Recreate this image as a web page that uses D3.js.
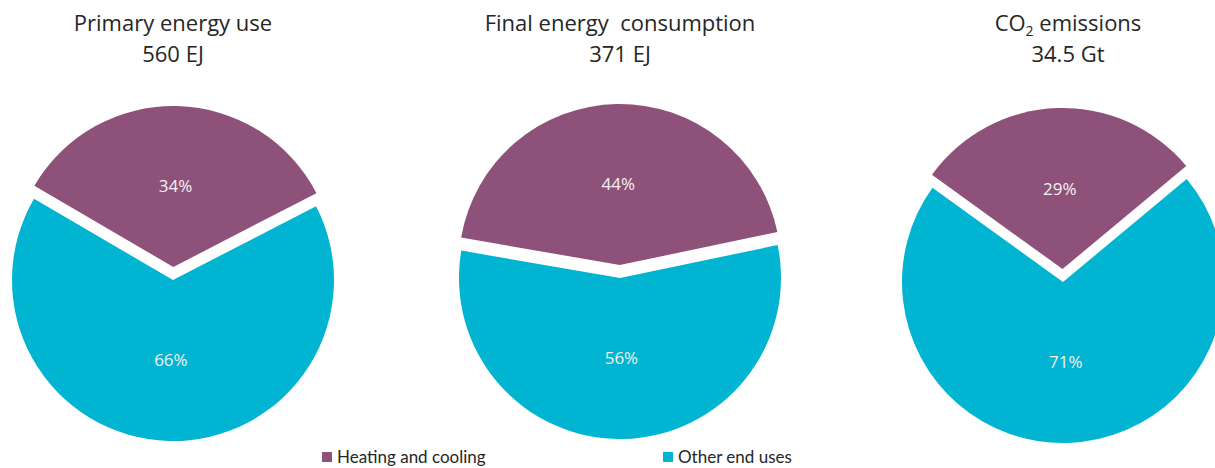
<!DOCTYPE html>
<html>
<head>
<meta charset="utf-8">
<script src="https://cdn.jsdelivr.net/npm/d3@7"></script>
<style>
  html, body { margin: 0; padding: 0; background: #fff; }
  svg { display: block; font-family: "Open Sans", Lato, sans-serif; }
</style>
</head>
<body>
<svg id="chart" width="1215" height="468"></svg>
<script>
// data
const charts = ["Primary energy use", "Final energy  consumption", "CO2 emissions"];
const totals = ["560 EJ", "371 EJ", "34.5 Gt"];
const categories = ["Heating and cooling", "Other end uses"];
const heating = [34, 44, 29];
const otherUses = [66, 56, 71];

const colors = ["#8e527a", "#00b4d2"];

// layout
const centersX = [173, 620, 1063];
const centersY = [280, 278, 282];
const tiltDeg = [1.5, -1, -2];   // slight rotation of each pie
const R = 161;
const EXPLODE = 13;

const svg = d3.select("#chart");

const color = d3.scaleOrdinal().domain(categories).range(colors);
const arc = d3.arc().innerRadius(0).outerRadius(R);

charts.forEach((name, i) => {
    const values = [heating[i], otherUses[i]];
    const total = d3.sum(values);
    const tilt = tiltDeg[i] * Math.PI / 180;
    // heating slice is centred at the top
    const start = -Math.PI * heating[i] / total + tilt;
    const pie = d3.pie().sort(null).startAngle(start).endAngle(start + 2 * Math.PI);
    const arcs = pie(values).map((a, k) => Object.assign(a, { cat: categories[k] }));

    const g = svg.append("g")
        .attr("transform", `translate(${centersX[i]},${centersY[i]})`);

    const slice = g.selectAll("g.slice")
        .data(arcs)
        .join("g")
        .attr("class", "slice")
        .attr("transform", (d, k) => {
            if (k !== 0) return null;
            // pull the heating slice out
            const mid = (d.startAngle + d.endAngle) / 2;
            return `translate(${EXPLODE * Math.sin(mid)},${-EXPLODE * Math.cos(mid)})`;
        });

    slice.append("path")
        .attr("d", arc)
        .attr("fill", d => color(d.cat));

    slice.append("text")
        .attr("transform", d => `translate(${arc.centroid(d)})`)
        .attr("text-anchor", "middle")
        .attr("dy", "0.35em")
        .attr("fill", "#f2f2f2")
        .attr("font-size", 17)
        .text(d => d.value + "%");

    // title
    const tx = centersX[i] + (i === 2 ? 5 : 0);
    const title = svg.append("text")
        .attr("x", tx)
        .attr("y", 31)
        .attr("text-anchor", "middle")
        .attr("fill", "#262626")
        .attr("font-size", 22);
    if (name.startsWith("CO2")) {
        title.append("tspan").text("CO");
        title.append("tspan").attr("font-size", 14).attr("dy", 5).text("2");
        title.append("tspan").attr("dy", -5).text(name.slice(3));
    } else {
        title.style("white-space", "pre").text(name);
    }

    svg.append("text")
        .attr("x", tx)
        .attr("y", 62)
        .attr("text-anchor", "middle")
        .attr("fill", "#262626")
        .attr("font-size", 22)
        .text(totals[i]);
});

// legend
const legendX = [322, 663];
const legend = svg.selectAll("g.legend")
    .data(categories)
    .join("g")
    .attr("class", "legend")
    .attr("transform", (d, k) => `translate(${legendX[k]},452)`);

legend.append("rect")
    .attr("width", 10)
    .attr("height", 10)
    .attr("fill", d => color(d));

legend.append("text")
    .attr("x", 15)
    .attr("y", 11)
    .attr("fill", "#262626")
    .attr("font-family", "Lato, sans-serif")
    .attr("font-size", 17)
    .text(d => d);
</script>
</body>
</html>
